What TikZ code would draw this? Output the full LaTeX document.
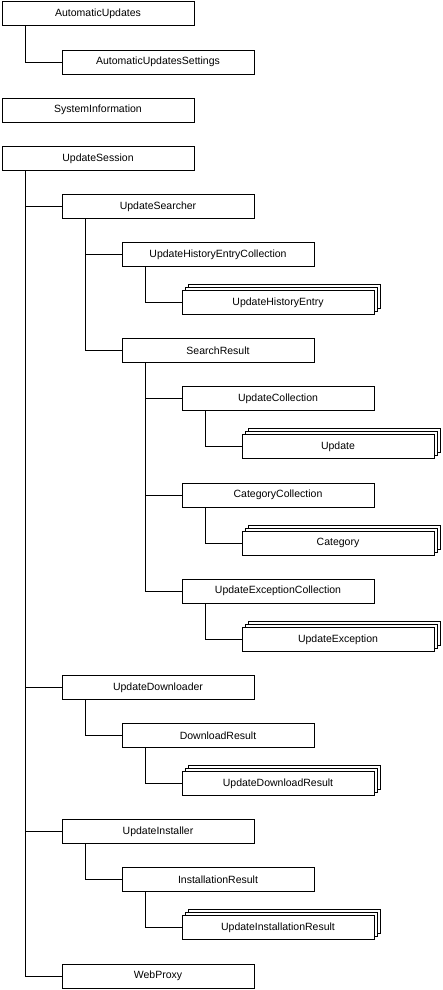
\documentclass[tikz,border=0pt]{standalone}
\usepackage{fontspec}
\setmainfont{Liberation Sans}
\usetikzlibrary{shadows}

\begin{document}
\begin{tikzpicture}[
            x = 1pt, y = -1pt, line width = 1pt,
            every node/.style = {draw, fill = white, minimum width = 192pt, minimum height = 24pt, inner sep = 0pt, font = \fontsize{10.5}{12}\selectfont},
            stack/.style = {copy shadow = {shadow xshift = 6pt, shadow yshift = 6pt, fill = white, draw = black},
                            copy shadow = {shadow xshift = 3pt, shadow yshift = 3pt, fill = white, draw = black}}
        ]
        \useasboundingbox (0,0) rectangle (443,990);
        \node (A1) at (98,14) {AutomaticUpdates};
        \node (B1) at (158,62.1) {AutomaticUpdatesSettings};
        \node (A2) at (98,110.2) {SystemInformation};
        \node (A3) at (98,158.3) {UpdateSession};
        \node (B2) at (158,206.4) {UpdateSearcher};
        \node (C1) at (218,254.5) {UpdateHistoryEntryCollection};
        \node[stack] (D1) at (278,302.6) {UpdateHistoryEntry};
        \node (C2) at (218,350.7) {SearchResult};
        \node (D2) at (278,398.8) {UpdateCollection};
        \node[stack] (E1) at (338,446.9) {Update};
        \node (D3) at (278,495) {CategoryCollection};
        \node[stack] (E2) at (338,543.1) {Category};
        \node (D4) at (278,591.2) {UpdateExceptionCollection};
        \node[stack] (E3) at (338,639.3) {UpdateException};
        \node (B3) at (158,687.4) {UpdateDownloader};
        \node (C3) at (218,735.5) {DownloadResult};
        \node[stack] (D5) at (278,783.6) {UpdateDownloadResult};
        \node (B4) at (158,831.7) {UpdateInstaller};
        \node (C4) at (218,879.8) {InstallationResult};
        \node[stack] (D6) at (278,927.9) {UpdateInstallationResult};
        \node (B5) at (158,976) {WebProxy};
        \draw ([xshift=24]A1.south west) |- (B1.west);
        \draw ([xshift=24]A3.south west) |- (B2.west) ([xshift=24]A3.south west) |- (B3.west);
        \draw ([xshift=24]A3.south west) |- (B4.west) ([xshift=24]A3.south west) |- (B5.west);
        \draw ([xshift=24]B2.south west) |- (C1.west) ([xshift=24]B2.south west) |- (C2.west);
        \draw ([xshift=24]C1.south west) |- (D1.west);
        \draw ([xshift=24]C2.south west) |- (D2.west) ([xshift=24]C2.south west) |- (D3.west);
        \draw ([xshift=24]C2.south west) |- (D4.west);
        \draw ([xshift=24]D2.south west) |- (E1.west);
        \draw ([xshift=24]D3.south west) |- (E2.west);
        \draw ([xshift=24]D4.south west) |- (E3.west);
        \draw ([xshift=24]B3.south west) |- (C3.west);
        \draw ([xshift=24]C3.south west) |- (D5.west);
        \draw ([xshift=24]B4.south west) |- (C4.west);
        \draw ([xshift=24]C4.south west) |- (D6.west);
    \end{tikzpicture}
\end{document}
